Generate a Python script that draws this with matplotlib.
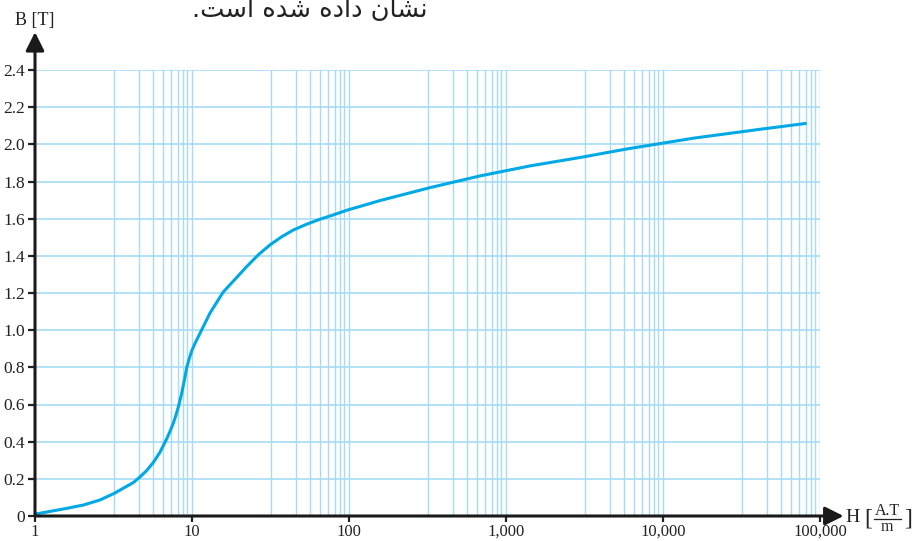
import matplotlib.pyplot as plt

plt.rcParams['font.family'] = ['Liberation Serif', 'DejaVu Serif']

# B-H curve
H = [1, 1.59, 2.03, 2.59, 3.2, 4.23, 4.66, 5.15, 5.67, 6.25, 6.9, 7.24, 7.6,
     7.91, 8.19, 8.6, 8.81, 9.03, 9.25, 9.61, 9.96, 10.45, 10.97, 11.8, 13.0,
     14.7, 15.8, 18.8, 22.3, 26.4, 31.4, 37.3, 44.2, 53.7, 65.3, 79.4, 96.6,
     157, 328, 683, 1422, 2958, 5870, 15600, 41500, 82300]
B = [0.01, 0.041, 0.059, 0.086, 0.122, 0.180, 0.210, 0.245, 0.288, 0.343,
     0.415, 0.455, 0.499, 0.544, 0.588, 0.660, 0.705, 0.750, 0.798, 0.848,
     0.888, 0.929, 0.965, 1.019, 1.091, 1.163, 1.205, 1.274, 1.342, 1.405,
     1.459, 1.503, 1.539, 1.570, 1.597, 1.620, 1.645, 1.697, 1.767, 1.830,
     1.884, 1.929, 1.975, 2.033, 2.081, 2.113]

# axis ticks / grid
decades = [1, 10, 100, 1000, 10000, 100000]
decade_labels = ['1', '10', '100', '1,000', '10,000', '100,000']
grid_steps = [3.2, 4.6, 5.65, 6.55, 7.35, 8.2, 8.7, 9.3]
b_ticks = [0, 0.2, 0.4, 0.6, 0.8, 1.0, 1.2, 1.4, 1.6, 1.8, 2.0, 2.2, 2.4]
b_labels = ['0', '0.2', '0.4', '0.6', '0.8', '1.0', '1.2', '1.4', '1.6',
            '1.8', '2.0', '2.2', '2.4']

title_fa = '.\uFE96\uFEB3\uFE8D \uFEE9\uFEAA\uFEB7 \uFEE9\uFEA9\uFE8D\uFEA9 \uFEE5\uFE8E\uFEB8\uFEE7'

fig = plt.figure(figsize=(9.15, 5.41), dpi=100)
ax = fig.add_axes([35/915, 25/541, 785/915, 446/541])

gc = '#a6dcf3'
for d in decades[:-1]:
    for s in grid_steps:
        ax.axvline(d * s, color=gc, lw=1.0, zorder=1)
for d in decades[1:]:
    ax.axvline(d, color=gc, lw=1.0, zorder=1)
for b in b_ticks[1:]:
    ax.axhline(b, color=gc, lw=1.2, zorder=1)

ax.plot(H, B, color='#00a9e6', lw=2.2, zorder=3, solid_capstyle='butt',
        solid_joinstyle='round')

ax.set_xscale('log')
ax.set_xlim(1, 100000)
ax.set_ylim(0, 2.4)
ax.set_xticks(decades)
ax.set_xticklabels(decade_labels)
ax.minorticks_off()
ax.set_yticks(b_ticks)
ax.set_yticklabels(b_labels)
ax.tick_params(axis='both', labelsize=12.5, width=1.6, length=5,
               color='#222222', labelcolor='#222222')
ax.tick_params(axis='y', pad=2)
ax.tick_params(axis='x', length=4, pad=1.5, labelsize=12)

for sp in ax.spines.values():
    sp.set_visible(False)

# axes with arrow heads
ax.annotate('', xy=(0, 1.085), xytext=(0, 0), xycoords='axes fraction',
            arrowprops=dict(arrowstyle='-|>', lw=2.2, color='#1a1a1a',
                            mutation_scale=28, shrinkA=0, shrinkB=0))
ax.annotate('', xy=(1.03, 0), xytext=(0, 0), xycoords='axes fraction',
            arrowprops=dict(arrowstyle='-|>', lw=2.2, color='#1a1a1a',
                            mutation_scale=28, shrinkA=0, shrinkB=0))

# axis titles
tc = '#222222'
fig.text(35/915, 1 - 20/541, 'B [T]', ha='center', va='center',
         fontsize=13, color=tc)
fig.text(845/915, 1 - 518/541, 'H', ha='left', va='center',
         fontsize=14, color=tc)
fig.text(864/915, 1 - 519/541, '[', ha='left', va='center', fontsize=17, color=tc)
fig.text(904/915, 1 - 519/541, ']', ha='left', va='center', fontsize=17, color=tc)
fig.text(887/915, 1 - 511/541, 'A.T', ha='center', va='center', fontsize=11.5, color=tc)
fig.text(887/915, 1 - 527/541, 'm', ha='center', va='center', fontsize=11.5, color=tc)
fig.add_artist(plt.Line2D([874/915, 901/915], [1 - 519/541, 1 - 519/541],
                          color=tc, lw=0.9))

fig.text(428/915, 1 - 17/541, title_fa, ha='right', va='baseline',
         fontsize=18.5, family=['DejaVu Sans'], color=tc)

fig.savefig('out.png', dpi=100)
